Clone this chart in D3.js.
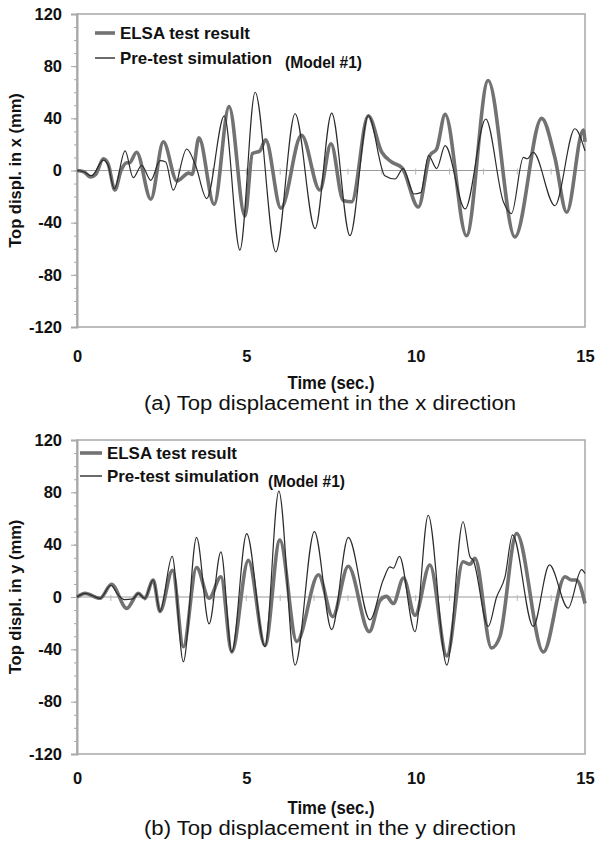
<!DOCTYPE html>
<html>
<head>
<meta charset="utf-8">
<script src="https://cdn.jsdelivr.net/npm/d3@7"></script>
<style>
  html, body { margin: 0; padding: 0; background: #fff; }
  svg { display: block; font-family: "Liberation Sans", Arial, sans-serif; }
</style>
</head>
<body>
<svg id="chart" width="597" height="848"></svg>
<script>
// Axis ticks
const timeTicks = [0, 5, 10, 15];
const secondTicks = d3.range(0, 16);
const dispTicks = [-120, -80, -40, 0, 40, 80, 120];
const dispMinorTicks = d3.range(-120, 121, 10);
const seriesNames = ["ELSA test result", "Pre-test simulation"];

// Top displacement in x: [time (s), displacement (mm)]
const elsaX = [[0,0],[0.2,-1],[0.4,-5],[0.55,-3],[0.78,9],[0.92,5],[1.12,-15],[1.3,0],[1.47,6],[1.55,6],[1.76,14],[2.18,-22],[2.55,22],[2.95,-8],[3.3,-2],[3.4,-3],[3.6,25],[4.05,-26],[4.49,49],[4.96,-35],[5.18,13],[5.4,15],[5.57,23.5],[6.02,-29],[6.63,27],[7.17,-15],[7.5,20.5],[7.86,-23],[8.11,-24],[8.6,42],[9.0,14],[9.29,6.5],[9.6,2],[10.08,-28],[10.42,11.5],[10.62,16.5],[10.87,43],[11.5,-50],[12.14,69],[12.93,-51],[13.72,40],[14.11,10],[14.46,-32],[14.95,31],[15,22]];
const simX = [[0,0],[0.2,-1],[0.43,-4],[0.78,8],[0.92,4],[1.1,-14],[1.42,15],[1.66,-5.5],[1.91,4],[2.18,-7.5],[2.45,7.5],[2.62,6.5],[2.84,-15],[3.24,16.5],[3.5,4],[3.83,-21.5],[4.35,42],[4.81,-61],[5.26,60],[5.87,-62.5],[6.44,43.5],[7.03,-44.5],[7.52,44],[8.06,-50],[8.6,42],[9.09,-4],[9.39,-6.5],[9.63,1.5],[9.95,-18],[10.15,-17],[10.38,11.5],[10.62,1.5],[10.87,19],[11.46,-29.5],[12.07,39.5],[12.59,-24],[12.83,-33],[13.18,10],[13.3,9],[13.47,14],[14.11,-27],[14.7,32],[15,15]];

// Top displacement in y: [time (s), displacement (mm)]
const elsaY = [[0,0],[0.24,2.8],[0.68,-1],[1.02,9.7],[1.47,-8.7],[1.81,2.8],[2.0,-1],[2.25,13],[2.45,-11],[2.82,20.5],[3.14,-38],[3.53,22.5],[3.9,-1],[4.25,15.5],[4.57,-42],[5.06,28],[5.55,-37],[5.99,43.5],[6.49,-34],[7.13,17],[7.55,-15],[8.01,23.5],[8.63,-26.5],[8.95,-2.5],[9.14,0.5],[9.34,-5],[9.64,14.5],[9.98,-14],[10.42,24.5],[10.92,-45],[11.4,27],[11.6,25],[11.75,29.5],[12.24,-39],[12.49,-30],[12.98,48.5],[13.77,-42],[14.41,15.5],[14.6,13],[14.75,13],[15,-5]];
const simY = [[0,0],[0.24,2.8],[0.68,-1],[1.0,9],[1.2,2],[1.4,-2],[1.65,-1.5],[1.81,2.8],[2.0,-1],[2.25,13],[2.45,-11],[2.81,31],[3.14,-49.5],[3.53,45.5],[3.9,-20.5],[4.25,34.5],[4.57,-42],[5.01,48.5],[5.55,-38],[5.96,81],[6.44,-52],[7.01,50],[7.52,-25],[8.01,45.5],[8.65,-17.5],[9.04,13],[9.24,23],[9.34,22],[9.52,31],[9.98,-26.5],[10.37,62.5],[10.92,-52],[11.4,57.5],[11.6,31],[11.7,28],[12.14,-22.5],[12.39,0],[12.64,15.5],[12.86,47.5],[13.47,-22.5],[13.95,24.5],[14.5,-8.5],[14.9,21],[15,18]];

const svg = d3.select("#chart");
const axisColor = "#a8a8a8";
const elsaColor = "#727272";
const simColor = "#2b2b2b";

const panels = [
  { top: 14, bottom: 327, elsa: elsaX, sim: simX, yTitle: "Top displ. in x (mm)",
    caption: "(a) Top displacement in the x direction",
    tickOffset: 34, timeBase: 389, captionBase: 410,
    legend: { x0: 95, x1: 115, y: [33, 58] }, modelPos: [285, 68] },
  { top: 440, bottom: 754, elsa: elsaY, sim: simY, yTitle: "Top displ. in y (mm)",
    caption: "(b) Top displacement in the y direction",
    tickOffset: 29, timeBase: 814, captionBase: 835,
    legend: { x0: 80, x1: 102, y: [453, 476] }, modelPos: [268, 487] }
];

const left = 77, right = 585;
const plain = d => String(d);

panels.forEach(p => {
  const x = d3.scaleLinear().domain([0, 15]).range([left, right]);
  const y = d3.scaleLinear().domain([-120, 120]).range([p.bottom, p.top]);
  const g = svg.append("g");

  // frame
  g.append("rect")
    .attr("x", left).attr("y", p.top)
    .attr("width", right - left).attr("height", p.bottom - p.top)
    .attr("fill", "none").attr("stroke", axisColor).attr("stroke-width", 1.5);

  // minor y ticks
  const minor = g.append("g").attr("transform", `translate(${left},0)`)
    .call(d3.axisLeft(y).tickValues(dispMinorTicks).tickSize(3).tickFormat(""));
  minor.select(".domain").remove();
  minor.selectAll("line").attr("stroke", axisColor);

  // major y ticks and labels
  const yAxis = g.append("g").attr("transform", `translate(${left},0)`)
    .call(d3.axisLeft(y).tickValues(dispTicks).tickSize(6).tickPadding(9).tickFormat(plain));
  yAxis.select(".domain").attr("stroke", axisColor).attr("stroke-width", 2);
  yAxis.selectAll("line").attr("stroke", axisColor);
  yAxis.selectAll("text")
    .attr("font-family", "Liberation Sans, Arial, sans-serif")
    .attr("font-size", 16.5).attr("font-weight", "bold").attr("fill", "#111");

  // x tick labels
  const xAxis = g.append("g").attr("transform", `translate(0,${p.bottom})`)
    .call(d3.axisBottom(x).tickValues(timeTicks).tickSize(0).tickPadding(p.tickOffset - 11).tickFormat(plain));
  xAxis.select(".domain").remove();
  xAxis.selectAll("text")
    .attr("font-family", "Liberation Sans, Arial, sans-serif")
    .attr("font-size", 16.5).attr("font-weight", "bold").attr("fill", "#111");

  // zero line with one-second marks
  const y0 = y(0);
  g.append("line").attr("x1", left).attr("x2", right).attr("y1", y0).attr("y2", y0)
    .attr("stroke", "#9a9a9a").attr("stroke-width", 1.2);
  g.selectAll(".sec").data(secondTicks.slice(1, -1)).join("line")
    .attr("x1", d => x(d)).attr("x2", d => x(d))
    .attr("y1", y0 - 2).attr("y2", y0 + 4)
    .attr("stroke", "#b8b8b8").attr("stroke-width", 1);

  const line = d3.line().x(d => x(d[0])).y(d => y(d[1])).curve(d3.curveMonotoneX);

  g.append("path").datum(p.elsa).attr("d", line)
    .attr("fill", "none").attr("stroke", elsaColor).attr("stroke-width", 3.6)
    .attr("stroke-linejoin", "round");
  g.append("path").datum(p.sim).attr("d", line)
    .attr("fill", "none").attr("stroke", simColor).attr("stroke-width", 1.2)
    .attr("stroke-linejoin", "round");

  // legend
  const L = p.legend;
  [[elsaColor, 3.6, 130], [simColor, 1.4, 152]].forEach((s, i) => {
    g.append("line").attr("x1", L.x0).attr("x2", L.x1)
      .attr("y1", L.y[i]).attr("y2", L.y[i])
      .attr("stroke", s[0]).attr("stroke-width", s[1]);
    g.append("text").attr("x", L.x1 + 5).attr("y", L.y[i] + 6)
      .attr("font-size", 17).attr("font-weight", "bold").attr("fill", "#111")
      .attr("textLength", s[2]).attr("lengthAdjust", "spacingAndGlyphs")
      .text(seriesNames[i]);
  });
  g.append("text").attr("x", p.modelPos[0]).attr("y", p.modelPos[1])
    .attr("font-size", 16).attr("font-weight", "bold").attr("fill", "#111")
    .attr("textLength", 77).attr("lengthAdjust", "spacingAndGlyphs")
    .text("(Model #1)");

  // axis titles
  const yc = (p.top + p.bottom) / 2;
  g.append("text").attr("transform", `translate(21,${yc}) rotate(-90)`)
    .attr("text-anchor", "middle").attr("font-size", 16.5).attr("font-weight", "bold")
    .attr("fill", "#111").text(p.yTitle);
  g.append("text").attr("x", 331).attr("y", p.timeBase)
    .attr("text-anchor", "middle").attr("font-size", 17.5).attr("font-weight", "bold")
    .attr("fill", "#111").attr("textLength", 87).attr("lengthAdjust", "spacingAndGlyphs")
    .text("Time (sec.)");
  g.append("text").attr("x", 330).attr("y", p.captionBase)
    .attr("text-anchor", "middle").attr("font-size", 19.5).attr("fill", "#111")
    .attr("textLength", 372).attr("lengthAdjust", "spacingAndGlyphs")
    .text(p.caption);
});
</script>
</body>
</html>
